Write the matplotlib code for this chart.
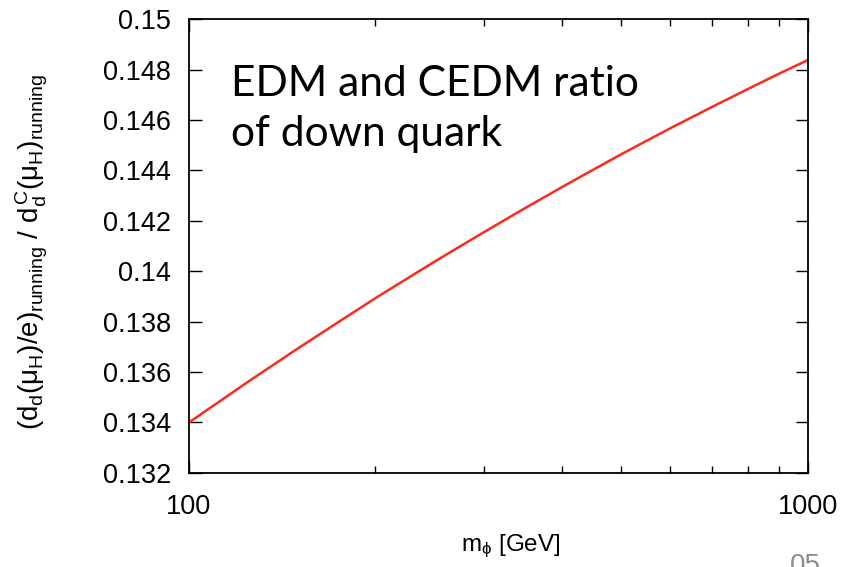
import matplotlib
matplotlib.use('Agg')
from matplotlib import pyplot as plt
from matplotlib.ticker import FixedLocator, NullFormatter

# m_phi [GeV] and the EDM / CEDM ratio of the down quark
m_phi = [100, 125, 150, 175, 200, 250, 300, 350, 400, 450, 500, 600, 700, 800, 900, 1000]
ratio = [0.13400, 0.13564, 0.13694, 0.13801, 0.13893, 0.14040, 0.14156, 0.14252,
         0.14333, 0.14403, 0.14465, 0.14568, 0.14652, 0.14723, 0.14785, 0.14838]

y_ticks = [0.132, 0.134, 0.136, 0.138, 0.14, 0.142, 0.144, 0.146, 0.148, 0.15]
y_labels = ['0.132', '0.134', '0.136', '0.138', '0.14', '0.142', '0.144', '0.146', '0.148', '0.15']
x_ticks = [100, 1000]
x_labels = ['100', '1000']

plt.rcParams['font.family'] = ['Liberation Sans', 'DejaVu Sans']
plt.rcParams['mathtext.fontset'] = 'custom'
plt.rcParams['mathtext.rm'] = 'Liberation Sans'
plt.rcParams['mathtext.it'] = 'Liberation Sans:italic'

fig = plt.figure(figsize=(8.63, 5.67), dpi=100)
ax = fig.add_axes([0.219, 0.166, 0.717, 0.800])

ax.plot(m_phi, ratio, color='#ff2a1a', lw=1.8)

ax.set_xscale('log')
ax.set_xlim(100, 1000)
ax.set_ylim(0.132, 0.15)
ax.xaxis.set_major_locator(FixedLocator(x_ticks))
ax.set_xticklabels(x_labels)
ax.xaxis.set_minor_locator(FixedLocator(range(200, 1000, 100)))
ax.xaxis.set_minor_formatter(NullFormatter())
ax.set_yticks(y_ticks)
ax.set_yticklabels(y_labels)

ax.tick_params(which='major', direction='in', top=True, right=True, labelsize=19.5,
               length=9, width=1, pad=13)
ax.tick_params(which='minor', direction='in', top=True, right=True, length=5, width=1)
ax.tick_params(axis='x', pad=15)
for s in ax.spines.values():
    s.set_linewidth(1.3)

ax.set_xlabel(r'$\mathrm{m}_{\mathrm{ϕ}}$ [GeV]', fontsize=17.5)
ax.xaxis.set_label_coords(0.52, -0.132)
ax.set_ylabel(r'$(\mathrm{d_d(μ_H)/e})_{\mathrm{running}}$ / '
              r'$\mathrm{d_d^{\,C}(μ_H)_{running}}$', fontsize=20)
ax.yaxis.set_label_coords(-0.224, 0.487)

ax.text(0.068, 0.899, 'EDM and CEDM ratio\nof down quark', transform=ax.transAxes,
        fontsize=30.6, family=['Lato', 'DejaVu Sans'], va='top', ha='left',
        linespacing=1.38)

# slide number, cut off at the bottom edge
fig.text(0.915, -0.022, '05', color='#8c8c8c', fontsize=20, ha='left', va='bottom')

fig.savefig('out.png', dpi=100)
